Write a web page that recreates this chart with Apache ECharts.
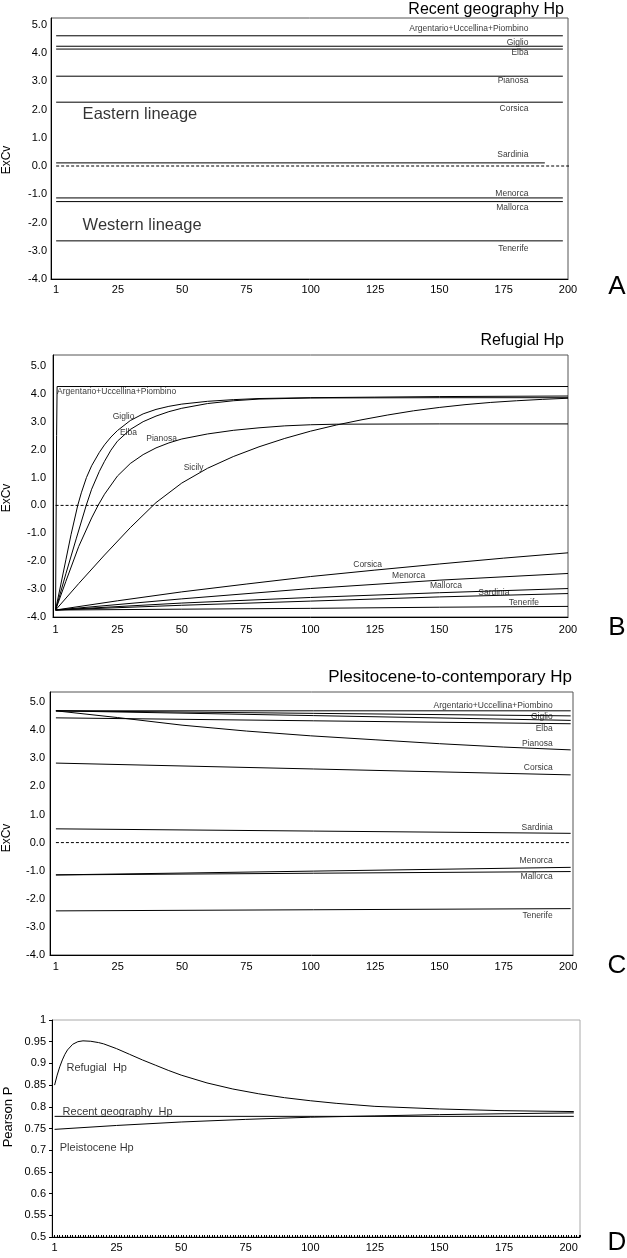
<!DOCTYPE html>
<html><head><meta charset="utf-8">
<script src="https://cdn.jsdelivr.net/npm/echarts@6/dist/echarts.min.js"></script>
<style>html,body{margin:0;padding:0;background:#fff}#c{width:627px;height:1258px}</style>
</head><body><div id="c"></div>
<script>
// ---------- tick labels ----------
const xTickLabels = [1, 25, 50, 75, 100, 125, 150, 175, 200];
const excvTicks = [-4, -3, -2, -1, 0, 1, 2, 3, 4, 5];

// ---------- Panel A: Recent geography Hp (flat ExCv values) ----------
const islandsA = ['Argentario+Uccellina+Piombino', 'Giglio', 'Elba', 'Pianosa', 'Corsica', 'Sardinia', 'Menorca', 'Mallorca', 'Tenerife'];
const recentValues = [4.61, 4.24, 4.14, 3.18, 2.26, 0.11, -1.13, -1.26, -2.65];
const recentEndX = [198, 198, 198, 198, 198, 191, 198, 198, 198];
const recentLabelY = [4.85, 4.38, 4.0, 3.03, 2.03, 0.40, -0.99, -1.47, -2.94];

// ---------- Panel B: Refugial Hp ----------
const refArgentario = [[1, -3.75], [1.4, 2.5], [1.6, 4.26], [200, 4.26]];
const refGiglio = [[1, -3.75], [3, -2.85], [5, -1.95], [7, -1.05], [9.6, 0], [11, 0.45], [13, 1.0], [15, 1.42], [18, 1.9], [20, 2.17], [22.5, 2.45], [25, 2.68], [30, 3.04], [35, 3.28], [40, 3.44], [45, 3.55], [50, 3.63], [60, 3.73], [70, 3.79], [80, 3.83], [100, 3.86], [125, 3.88], [150, 3.9], [200, 3.92]];
const refElba = [[1, -3.75], [5, -2.45], [9, -1.2], [12.9, 0], [15, 0.58], [18, 1.22], [20, 1.58], [22.5, 1.98], [25, 2.3], [30, 2.72], [35, 3.0], [40, 3.2], [45, 3.36], [50, 3.48], [60, 3.65], [70, 3.75], [80, 3.81], [100, 3.85], [150, 3.86], [200, 3.86]];
const refPianosa = [[1, -3.75], [5, -2.72], [10, -1.47], [15, -0.45], [17.5, 0], [20, 0.4], [25, 1.05], [30, 1.5], [35, 1.82], [40, 2.06], [45, 2.24], [50, 2.38], [60, 2.56], [70, 2.69], [80, 2.78], [90, 2.85], [100, 2.89], [110, 2.91], [150, 2.92], [200, 2.92]];
const refSicily = [[1, -3.75], [10, -2.8], [20, -1.78], [30, -0.8], [40, 0.1], [50, 0.8], [60, 1.33], [70, 1.75], [80, 2.1], [90, 2.4], [100, 2.66], [110, 2.88], [120, 3.07], [130, 3.24], [140, 3.39], [150, 3.51], [160, 3.61], [170, 3.69], [180, 3.75], [190, 3.8], [200, 3.84]];
const refCorsica = [[1, -3.75], [25, -3.42], [50, -3.1], [75, -2.82], [100, -2.55], [125, -2.32], [150, -2.1], [175, -1.89], [200, -1.7]];
const refMenorca = [[1, -3.75], [50, -3.35], [100, -2.98], [150, -2.68], [200, -2.44]];
const refMallorca = [[1, -3.75], [50, -3.5], [100, -3.3], [150, -3.13], [200, -2.98]];
const refSardinia = [[1, -3.75], [50, -3.58], [100, -3.43], [150, -3.28], [200, -3.16]];
const refTenerife = [[1, -3.75], [50, -3.72], [100, -3.69], [150, -3.65], [200, -3.62]];
const refLabelNames = ['Giglio', 'Elba', 'Pianosa', 'Sicily', 'Corsica', 'Menorca', 'Mallorca', 'Sardinia', 'Tenerife'];
const refLabelPos = [[27.4, 3.18], [29.3, 2.62], [42.2, 2.40], [54.6, 1.37], [122.2, -2.11], [138.1, -2.52], [152.6, -2.88], [171.2, -3.14], [182.9, -3.50]];

// ---------- Panel C: Pleistocene-to-contemporary Hp ----------
const pleiArgentario = [[1, 4.69], [201, 4.69]];
const pleiGiglio = [[1, 4.69], [201, 4.51]];
const pleiElba = [[1, 4.69], [201, 4.35]];
const pleiSicily = [[1, 4.44], [201, 4.23]];
const pleiPianosa = [[1, 4.69], [25, 4.45], [50, 4.18], [75, 3.97], [100, 3.8], [125, 3.66], [150, 3.52], [175, 3.4], [201, 3.30]];
const pleiCorsica = [[1, 2.83], [201, 2.41]];
const pleiSardinia = [[1, 0.49], [201, 0.33]];
const pleiMenorca = [[1, -1.15], [201, -0.88]];
const pleiMallorca = [[1, -1.15], [201, -1.03]];
const pleiTenerife = [[1, -2.43], [201, -2.35]];
const pleiLabelY = [4.89, 4.49, 4.04, 3.52, 2.67, 0.54, -0.63, -1.22, -2.59];

// ---------- Panel D: Pearson P ----------
const pearsonRefugial = [[1, 0.85], [2, 0.873], [3, 0.892], [4, 0.908], [5, 0.921], [6, 0.931], [8, 0.944], [10, 0.95], [12, 0.952], [15, 0.951], [18, 0.948], [20, 0.945], [25, 0.934], [30, 0.921], [35, 0.908], [40, 0.896], [45, 0.884], [50, 0.873], [60, 0.855], [70, 0.841], [80, 0.83], [90, 0.821], [100, 0.814], [110, 0.808], [125, 0.801], [150, 0.795], [175, 0.791], [202, 0.789]];
const pearsonRecent = [[1, 0.778], [202, 0.778]];
const pearsonPleistocene = [[1, 0.748], [25, 0.757], [50, 0.765], [75, 0.771], [100, 0.776], [125, 0.779], [150, 0.782], [175, 0.784], [202, 0.786]];
const pearsonLabels = [{ name: 'Refugial  Hp', value: [5.4, 0.890] }, { name: 'Recent geography  Hp', value: [3.9, 0.787] }, { name: 'Pleistocene Hp', value: [2.8, 0.705] }];

// ---------- build ----------
const FONT = "'Liberation Sans', Arial, Helvetica, sans-serif";
const grids = [
  { left: 51, top: 18, width: 517, height: 261 },
  { left: 53, top: 355, width: 515, height: 262 },
  { left: 50, top: 692, width: 523, height: 263 },
  { left: 52, top: 1020, width: 528, height: 217 }
].map((g, i) => Object.assign(g, { show: true, borderColor: i === 3 ? '#aaa' : '#555', borderWidth: 1 }));

function xLabel(margin) {
  return { customValues: xTickLabels, fontSize: 11, color: '#000', fontFamily: FONT, margin: margin };
}
function xAx(i, min, max, margin) {
  return {
    gridIndex: i, type: 'value', min: min, max: max,
    axisLine: { show: true, onZero: false, lineStyle: { color: '#000', width: 1 } },
    axisTick: { show: false }, splitLine: { show: false },
    axisLabel: xLabel(margin)
  };
}
function yAx(i, max, margin) {
  return {
    gridIndex: i, type: 'value', min: -4, max: max,
    axisLine: { show: true, onZero: false, lineStyle: { color: '#000', width: 1 } },
    axisTick: { show: false }, splitLine: { show: false },
    axisLabel: { customValues: excvTicks, formatter: v => v.toFixed(1), fontSize: 11, color: '#000', fontFamily: FONT, margin: margin }
  };
}
const xAxes = [
  xAx(0, -1, 200, 5),
  xAx(1, 0, 200, 7),
  xAx(2, -1.3, 201.9, 6),
  {
    gridIndex: 3, type: 'value', min: 0, max: 204.4, interval: 25,
    axisLine: { show: true, onZero: false, lineStyle: { color: '#000', width: 1 } },
    axisTick: { show: true, inside: true, length: 2, lineStyle: { color: '#000' } },
    minorTick: { show: true, splitNumber: 25, length: 2, lineStyle: { color: '#000' } },
    splitLine: { show: false },
    axisLabel: xLabel(5)
  }
];
const yAxes = [
  yAx(0, 5.24, 4), yAx(1, 5.39, 7), yAx(2, 5.36, 5),
  {
    gridIndex: 3, type: 'value', min: 0.5, max: 1, interval: 0.05,
    axisLine: { show: true, onZero: false, lineStyle: { color: '#000', width: 1 } },
    axisTick: { show: true, length: 3, lineStyle: { color: '#000' } }, splitLine: { show: false },
    axisLabel: { formatter: v => String(+v.toFixed(2)), fontSize: 11, color: '#000', fontFamily: FONT, margin: 6 }
  }
];

const series = [];
function line(data, gi, opts) {
  series.push(Object.assign({
    type: 'line', xAxisIndex: gi, yAxisIndex: gi, data: data, showSymbol: false, symbol: 'none',
    lineStyle: { color: '#000', width: 1 }, silent: true, animation: false
  }, opts || {}));
}
function labels(items, gi, pos, size) {
  series.push({
    type: 'scatter', xAxisIndex: gi, yAxisIndex: gi, data: items, symbolSize: 1,
    itemStyle: { color: 'rgba(0,0,0,0)' }, silent: true, animation: false, clip: false,
    label: { show: true, position: pos, distance: 0, formatter: '{b}', fontSize: size, color: '#000', fontFamily: FONT }
  });
}
function zeroLine(gi, x0, x1) {
  line([[x0, 0], [x1, 0]], gi, { lineStyle: { color: '#000', width: 1, type: [3, 2] }, clip: false });
}

// Panel A
recentValues.forEach((v, i) => line([[1, v], [recentEndX[i], v]], 0));
zeroLine(0, 1, 201.2);
labels(islandsA.map((n, i) => ({ name: n, value: [184.8, recentLabelY[i]] })), 0, 'left', 8.5);
labels([{ name: 'Eastern lineage', value: [11.1, 1.82] }, { name: 'Western lineage', value: [11.1, -2.09] }], 0, 'right', 16.5);

// Panel B
[refArgentario, refGiglio, refElba, refPianosa, refSicily, refCorsica, refMenorca, refMallorca, refSardinia, refTenerife].forEach(d => line(d, 1));
zeroLine(1, 1, 200);
labels([{ name: 'Argentario+Uccellina+Piombino', value: [1.4, 4.08] }], 1, 'right', 8.5);
labels(refLabelNames.map((n, i) => ({ name: n, value: refLabelPos[i] })), 1, 'inside', 8.5);

// Panel C
[pleiArgentario, pleiGiglio, pleiElba, pleiSicily, pleiPianosa, pleiCorsica, pleiSardinia, pleiMenorca, pleiMallorca, pleiTenerife].forEach(d => line(d, 2));
zeroLine(2, 1, 201);
labels(islandsA.map((n, i) => ({ name: n, value: [194.2, pleiLabelY[i]] })), 2, 'left', 8.5);

// Panel D
line(pearsonRefugial, 3);
line(pearsonRecent, 3);
line(pearsonPleistocene, 3);
labels(pearsonLabels, 3, 'right', 11);

const txt = (text, x, y, size, align, rot) => ({
  type: 'text', x: x, y: y, rotation: rot || 0, silent: true,
  style: { text: text, fontSize: size, fontFamily: FONT, fill: '#000', textAlign: align || 'center', textVerticalAlign: 'middle' }
});
const graphic = [
  txt('Recent geography Hp', 564, 10, 16, 'right'),
  txt('Refugial Hp', 564, 341, 16, 'right'),
  txt('Plesitocene-to-contemporary Hp', 572, 677, 17, 'right'),
  txt('A', 617, 287, 26), txt('B', 617, 628, 26), txt('C', 617, 966, 26), txt('D', 617, 1243, 26),
  txt('ExCv', 7, 160, 12, 'center', Math.PI / 2),
  txt('ExCv', 7, 498, 12, 'center', Math.PI / 2),
  txt('ExCv', 7, 838, 12, 'center', Math.PI / 2),
  txt('Pearson P', 8, 1117, 13, 'center', Math.PI / 2)
];

const chart = echarts.init(document.getElementById('c'), null, { renderer: 'canvas' });
chart.setOption({
  animation: false, backgroundColor: '#fff',
  grid: grids, xAxis: xAxes, yAxis: yAxes, series: series, graphic: graphic
});
</script></body></html>
